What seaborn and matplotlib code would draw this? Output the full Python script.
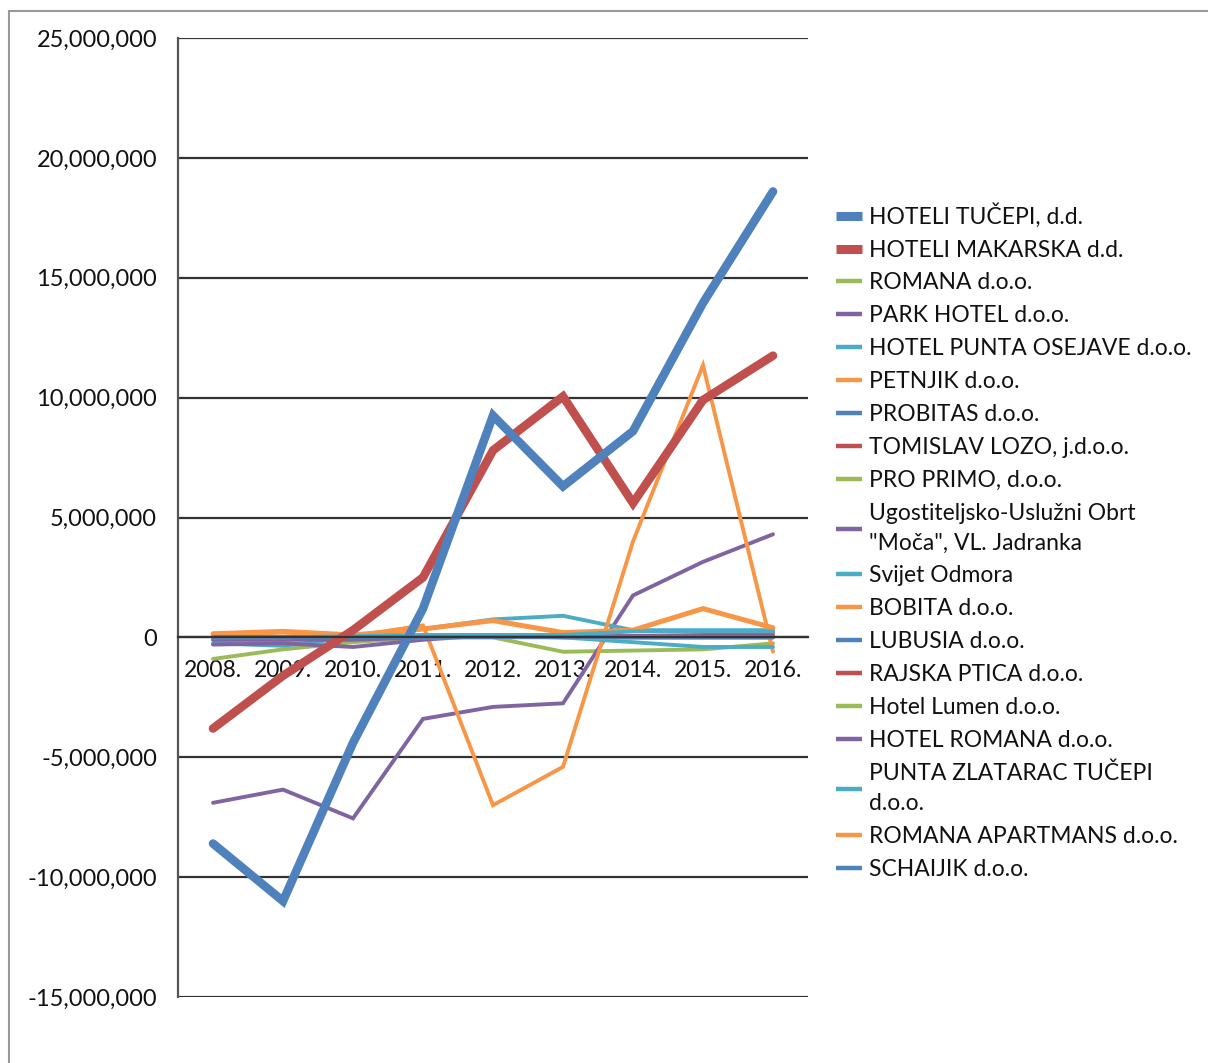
import pandas as pd
import numpy as np
import matplotlib.pyplot as plt
import matplotlib.ticker as mticker
from matplotlib.lines import Line2D
import seaborn as sns

years = ['2008.', '2009.', '2010.', '2011.', '2012.', '2013.', '2014.', '2015.', '2016.']

companies = [
    'HOTELI TUČEPI, d.d.', 'HOTELI MAKARSKA d.d.', 'ROMANA d.o.o.', 'PARK HOTEL d.o.o.',
    'HOTEL PUNTA OSEJAVE d.o.o.', 'PETNJIK d.o.o.', 'PROBITAS d.o.o.', 'TOMISLAV LOZO, j.d.o.o.',
    'PRO PRIMO, d.o.o.', 'Ugostiteljsko-Uslužni Obrt\n"Moča", VL. Jadranka', 'Svijet Odmora',
    'BOBITA d.o.o.', 'LUBUSIA d.o.o.', 'RAJSKA PTICA d.o.o.', 'Hotel Lumen d.o.o.',
    'HOTEL ROMANA d.o.o.', 'PUNTA ZLATARAC TUČEPI\nd.o.o.', 'ROMANA APARTMANS d.o.o.', 'SCHAIJIK d.o.o.',
]

hoteli_tucepi = [-8.6e6, -11.0e6, -4.4e6, 1.2e6, 9.25e6, 6.3e6, 8.6e6, 13.95e6, 18.6e6]
hoteli_makarska = [-3.8e6, -1.6e6, 0.3e6, 2.5e6, 7.8e6, 10.05e6, 5.6e6, 9.9e6, 11.75e6]
romana = [-0.9e6, -0.5e6, -0.2e6, 0.0, 0.0, -0.6e6, -0.55e6, -0.5e6, -0.25e6]
park_hotel = [-6.9e6, -6.35e6, -7.55e6, -3.4e6, -2.9e6, -2.75e6, 1.75e6, 3.15e6, 4.3e6]
punta_osejave = [-0.25e6, -0.35e6, 0.0, 0.35e6, 0.75e6, 0.9e6, 0.3e6, 0.3e6, 0.3e6]
petnjik = [0.1e6, 0.2e6, 0.05e6, 0.5e6, -7.0e6, -5.4e6, 4.0e6, 11.35e6, -0.6e6]
probitas = [0.0, 0.0, 0.0, 0.0, 0.05e6, 0.0, 0.0, 0.0, 0.0]
tomislav_lozo = [0.0, 0.0, 0.0, 0.05e6, 0.1e6, 0.05e6, 0.05e6, 0.05e6, 0.1e6]
pro_primo = [0.0, 0.0, 0.0, 0.05e6, 0.1e6, 0.05e6, 0.0, 0.0, 0.0]
ugostiteljsko = [-0.3e6, -0.25e6, -0.4e6, -0.1e6, 0.1e6, 0.05e6, 0.0, 0.0, 0.0]
svijet_odmora = [-0.1e6, -0.1e6, 0.0, 0.05e6, 0.1e6, 0.0, -0.2e6, -0.4e6, -0.4e6]
bobita = [0.15e6, 0.25e6, 0.1e6, 0.35e6, 0.7e6, 0.2e6, 0.3e6, 1.2e6, 0.4e6]
lubusia = [0.0, 0.0, 0.0, 0.0, 0.0, 0.0, 0.0, 0.0, 0.0]
rajska_ptica = [0.0, 0.0, 0.0, 0.0, 0.05e6, 0.05e6, 0.05e6, 0.1e6, 0.2e6]
hotel_lumen = [0.0, 0.0, -0.05e6, 0.0, 0.0, 0.0, 0.0, 0.0, 0.0]
hotel_romana = [-0.1e6, -0.1e6, -0.1e6, 0.0, 0.1e6, 0.05e6, 0.05e6, 0.05e6, 0.05e6]
punta_zlatarac = [0.0, 0.0, 0.05e6, 0.1e6, 0.1e6, 0.1e6, 0.25e6, 0.25e6, 0.25e6]
romana_apartmans = [0.0, 0.0, 0.0, 0.0, 0.0, 0.0, 0.0, 0.0, 0.0]
schaijik = [0.0, 0.0, 0.0, 0.0, 0.0, 0.0, 0.0, 0.0, 0.0]

series = [hoteli_tucepi, hoteli_makarska, romana, park_hotel, punta_osejave, petnjik,
          probitas, tomislav_lozo, pro_primo, ugostiteljsko, svijet_odmora, bobita,
          lubusia, rajska_ptica, hotel_lumen, hotel_romana, punta_zlatarac,
          romana_apartmans, schaijik]

palette6 = ['#4F81BD', '#C0504D', '#9BBB59', '#8064A2', '#4BACC6', '#F79646']
colors = [palette6[i % 6] for i in range(len(companies))]
widths = [6.2, 6.2] + [2.8] * 17
widths[11] = 3.6

rows = []
for name, vals in zip(companies, series):
    for i, v in enumerate(vals):
        rows.append({'company': name, 'idx': i, 'value': v})
df = pd.DataFrame(rows)

sns.set_style('white')
plt.rcParams['font.family'] = ['Lato', 'DejaVu Sans']

fig = plt.figure(figsize=(12.08, 10.63), dpi=100)
ax = fig.add_axes([178 / 1208, 1 - 997 / 1063, (808 - 178) / 1208, (997 - 38) / 1063])

# thin series first, the two big ones on top
order = list(range(2, len(companies))) + [1, 0]
for k in order:
    sub = df[df['company'] == companies[k]]
    sns.lineplot(data=sub, x='idx', y='value', color=colors[k], linewidth=widths[k],
                 ax=ax, legend=False, solid_joinstyle='miter')

ax.set_xlim(-0.5, 8.5)
ax.set_ylim(-15e6, 25e6)
ax.yaxis.set_major_locator(mticker.MultipleLocator(5e6))
ax.yaxis.set_major_formatter(mticker.FuncFormatter(lambda v, p: f'{v:,.0f}'))
ax.grid(axis='y', color='#333333', linewidth=1.6)
ax.set_axisbelow(True)
ax.set_xlabel('')
ax.set_ylabel('')

for s in ['top', 'right']:
    ax.spines[s].set_visible(False)
ax.spines['left'].set_color('#555555')
ax.spines['left'].set_linewidth(1.6)
ax.spines['bottom'].set_position(('data', 0))
ax.spines['bottom'].set_color('#333333')
ax.spines['bottom'].set_linewidth(1.6)

ax.set_xticks(range(len(years)))
ax.set_xticklabels(years)
ax.set_xticks(np.arange(-0.5, 9, 1), minor=True)
ax.tick_params(axis='x', which='major', length=0, pad=16, labelsize=16.5, labelcolor='#111111')
ax.tick_params(axis='x', which='minor', length=6, width=1.4, color='#555555', direction='out')
ax.tick_params(axis='y', length=7, width=1.6, color='#555555', direction='out',
               labelsize=17, pad=8, labelcolor='#111111')

handles = [Line2D([0], [0], color=colors[k], linewidth=(6.5 if k < 2 else 3.2),
                  solid_capstyle='butt') for k in range(len(companies))]
leg = fig.legend(handles, companies, loc='upper left', bbox_to_anchor=(836 / 1208, 1 - 203 / 1063),
                 frameon=False, fontsize=16.5, handlelength=1.15, handletextpad=0.3,
                 labelspacing=0.52, borderaxespad=0, borderpad=0)
for t in leg.get_texts():
    t.set_linespacing(1.5)
    t.set_color('#111111')

# outer chart border (top and left visible in the original)
fig.add_artist(Line2D([9 / 1208, 1.0], [1 - 11 / 1063, 1 - 11 / 1063], color='#999999',
                      linewidth=1.5, transform=fig.transFigure))
fig.add_artist(Line2D([9 / 1208, 9 / 1208], [0, 1 - 11 / 1063], color='#999999',
                      linewidth=1.5, transform=fig.transFigure))

fig.savefig('out.png', dpi=100, facecolor='white')
